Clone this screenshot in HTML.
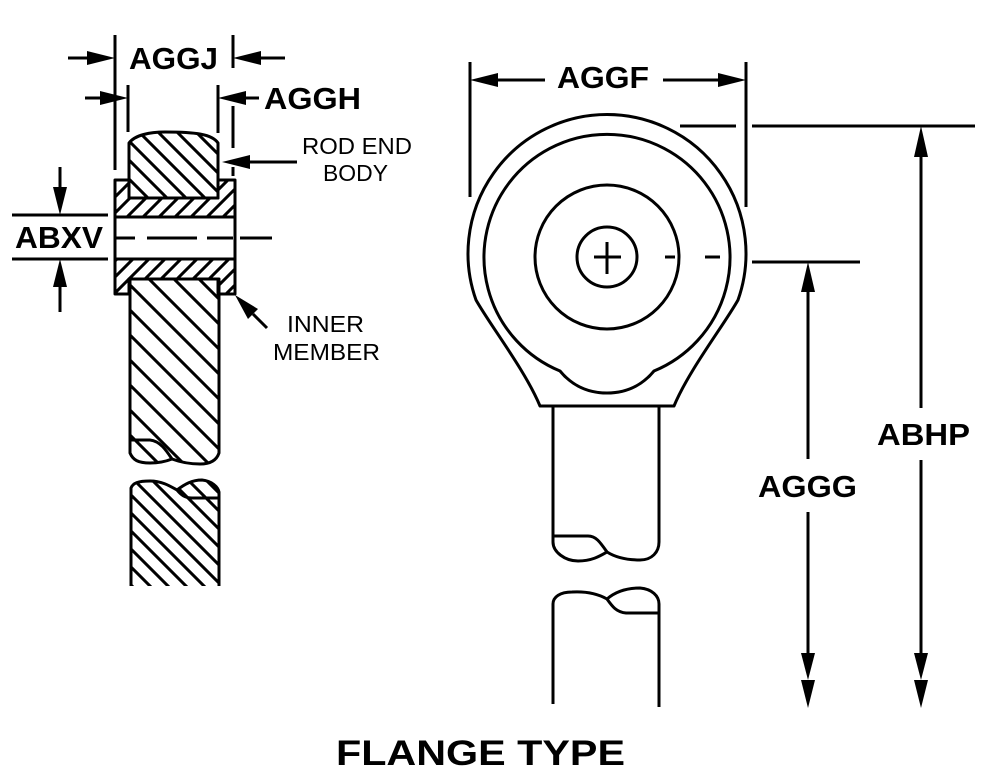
<!DOCTYPE html>
<html><head><meta charset="utf-8"><style>
html,body{margin:0;padding:0;background:#fff;}
svg{display:block;}
text{font-family:"Liberation Sans",Arial,sans-serif;fill:#000;}
.d{font-weight:bold;font-size:31px;}
.r{font-size:23px;}
</style></head><body>
<svg width="986" height="775" viewBox="0 0 986 775" xmlns="http://www.w3.org/2000/svg">
<defs>
<clipPath id="cA"><path d="M129,198 V143 C135,135 150,132 165,132 C195,132 212,134 218,143 V198 Z"/></clipPath>
<clipPath id="cB"><path d="M115,180 H129 V198 H218 V180 H235 V217 H115 Z M115,259 H235 V294 H218 V279 H129 V294 H115 Z"/></clipPath>
<clipPath id="cC"><path d="M130,279 V453 C133,460 138,463 150,463 C160,463 167,461 172,459 C180,462 188,464 200,464 C212,464 217,459 219,453 V279 Z"/></clipPath>
<clipPath id="cD"><path d="M131,586 V488 C133,483 138,481 150,481 C162,481 170,486 177,490 C185,484 192,480 202,480 C212,481 218,487 219,492 V586 Z"/></clipPath>
</defs>

<!-- hatching -->
<g stroke="#000" stroke-width="3" fill="none">
<path clip-path="url(#cA)" d="M51,120 L141,210 M70,120 L160,210 M89,120 L179,210 M108,120 L198,210 M127,120 L217,210 M146,120 L236,210 M165,120 L255,210 M184,120 L274,210 M203,120 L293,210"/>
<path clip-path="url(#cB)" d="M126,170 L-4,300 M142,170 L12,300 M158,170 L28,300 M174,170 L44,300 M190,170 L60,300 M206,170 L76,300 M222,170 L92,300 M238,170 L108,300 M254,170 L124,300 M270,170 L140,300 M286,170 L156,300 M302,170 L172,300 M318,170 L188,300 M334,170 L204,300 M350,170 L220,300"/>
<path clip-path="url(#cC)" d="M-60,270 L140,470 M-35,270 L165,470 M-10,270 L190,470 M15,270 L215,470 M40,270 L240,470 M65,270 L265,470 M90,270 L290,470 M115,270 L315,470 M140,270 L340,470 M165,270 L365,470 M190,270 L390,470 M215,270 L415,470"/>
<path clip-path="url(#cD)" d="M21,475 L136,590 M39,475 L154,590 M57,475 L172,590 M75,475 L190,590 M93,475 L208,590 M111,475 L226,590 M129,475 L244,590 M147,475 L262,590 M165,475 L280,590 M183,475 L298,590 M201,475 L316,590 M219,475 L334,590"/>
</g>

<g fill="none" stroke="#000" stroke-width="3" stroke-linejoin="round">
<!-- LEFT VIEW -->
<path d="M129,198 V143 C135,135 150,132 165,132 C195,132 212,134 218,143 V198 Z"/>
<path d="M115,180 H129 V198 H218 V180 H235 V217 H115 Z"/>
<path d="M115,259 H235 V294 H218 V279 H129 V294 H115 Z"/>
<path d="M115,180 V294 M235,180 V294"/>
<path d="M130,279 V453 C133,460 138,463 150,463 C160,463 167,461 172,459 C180,462 188,464 200,464 C212,464 217,459 219,453 V279 Z"/>
<path d="M131,440 H150 C160,441 166,450 172,459"/>
<path d="M131,586 V488 C133,483 138,481 150,481 C162,481 170,486 177,490 C185,484 192,480 202,480 C212,481 218,487 219,492 V586"/>
<path d="M177,490 C181,495 185,498 192,498 H219"/>

<path d="M115,238 H135 M147,238 H197 M207,238 H233 M240,238 H272"/>
<path d="M12,215 H108 M12,259 H108"/>
<path d="M115,35 V170"/>
<path d="M233,35 V68 M233,106 V148 M233,167 V176"/>
<path d="M128,85 V132 M218,85 V133"/>
<path d="M68,58 H90 M258,58 H285 M85,98 H105 M244,98 H259 M60,167 V190 M60,285 V312 M248,162 H297 M253,314 L267,328"/>

<!-- RIGHT VIEW -->
<path d="M540,406 C525,370 490,325 476,300 A139,139 0 1 1 738,300 C724,325 689,370 674,406 Z"/>
<path d="M560,371 A123,123 0 1 1 654,371 C645,382 630,393 607,393 C584,393 569,382 560,371 Z"/>
<circle cx="607" cy="257" r="72"/>
<circle cx="607" cy="257" r="30"/>
<path d="M594,257 H621 M607,242 V274"/>
<path d="M665,257 H675 M705,257 H720 M752,262 H860"/>
<path d="M680,126 H736 M752,126 H975"/>
<path d="M470,62 V197 M746,62 V207"/>
<path d="M496,80 H545 M663,80 H720"/>
<path d="M553,406 V542 C553,552 565,561 578,561 C592,561 600,556 607,552 C615,557 625,560 640,560 C652,560 659,552 659,542 V406"/>
<path d="M553,536 H588 C596,536 600,542 607,552"/>
<path d="M553,704 V604 C553,597 560,592 572,592 C590,591 600,595 607,599 C615,592 625,588 640,588 C652,589 659,596 659,604 V707"/>
<path d="M607,599 C612,606 616,612 626,613 H659"/>
<path d="M808,290 V459 M808,512 V656 M921,155 V408 M921,460 V656"/>
</g>

<g fill="#000" stroke="none">
<polygon points="115,58 87,51 87,65"/>
<polygon points="233,58 261,51 261,65"/>
<polygon points="128,98 100,91 100,105"/>
<polygon points="218,98 246,91 246,105"/>
<polygon points="60,215 53,187 67,187"/>
<polygon points="60,259 53,287 67,287"/>
<polygon points="222,162 250,155 250,169"/>
<polygon points="235,295 258,309 248,319"/>
<polygon points="470,80 498,73 498,87"/>
<polygon points="746,80 718,73 718,87"/>
<polygon points="808,262 801,292 815,292"/>
<polygon points="808,680 801,653 815,653"/>
<polygon points="808,708 801,680 815,680"/>
<polygon points="921,126 914,157 928,157"/>
<polygon points="921,680 914,653 928,653"/>
<polygon points="921,708 914,680 928,680"/>
</g>

<text class="d" x="129" y="69" textLength="89" lengthAdjust="spacingAndGlyphs">AGGJ</text>
<text class="d" x="264" y="109" textLength="97" lengthAdjust="spacingAndGlyphs">AGGH</text>
<text class="d" x="15" y="248" textLength="88" lengthAdjust="spacingAndGlyphs">ABXV</text>
<text class="r" x="302" y="154" textLength="110" lengthAdjust="spacingAndGlyphs">ROD END</text>
<text class="r" x="323" y="181" textLength="65" lengthAdjust="spacingAndGlyphs">BODY</text>
<text class="r" x="287" y="332" textLength="77" lengthAdjust="spacingAndGlyphs">INNER</text>
<text class="r" x="273" y="360" textLength="107" lengthAdjust="spacingAndGlyphs">MEMBER</text>
<text class="d" x="557" y="88" textLength="92" lengthAdjust="spacingAndGlyphs">AGGF</text>
<text class="d" x="758" y="497" textLength="99" lengthAdjust="spacingAndGlyphs">AGGG</text>
<text class="d" x="877" y="445" textLength="93" lengthAdjust="spacingAndGlyphs">ABHP</text>
<text x="336" y="765" style="font-weight:bold;font-size:35px" textLength="289" lengthAdjust="spacingAndGlyphs">FLANGE TYPE</text>
</svg>
</body></html>
